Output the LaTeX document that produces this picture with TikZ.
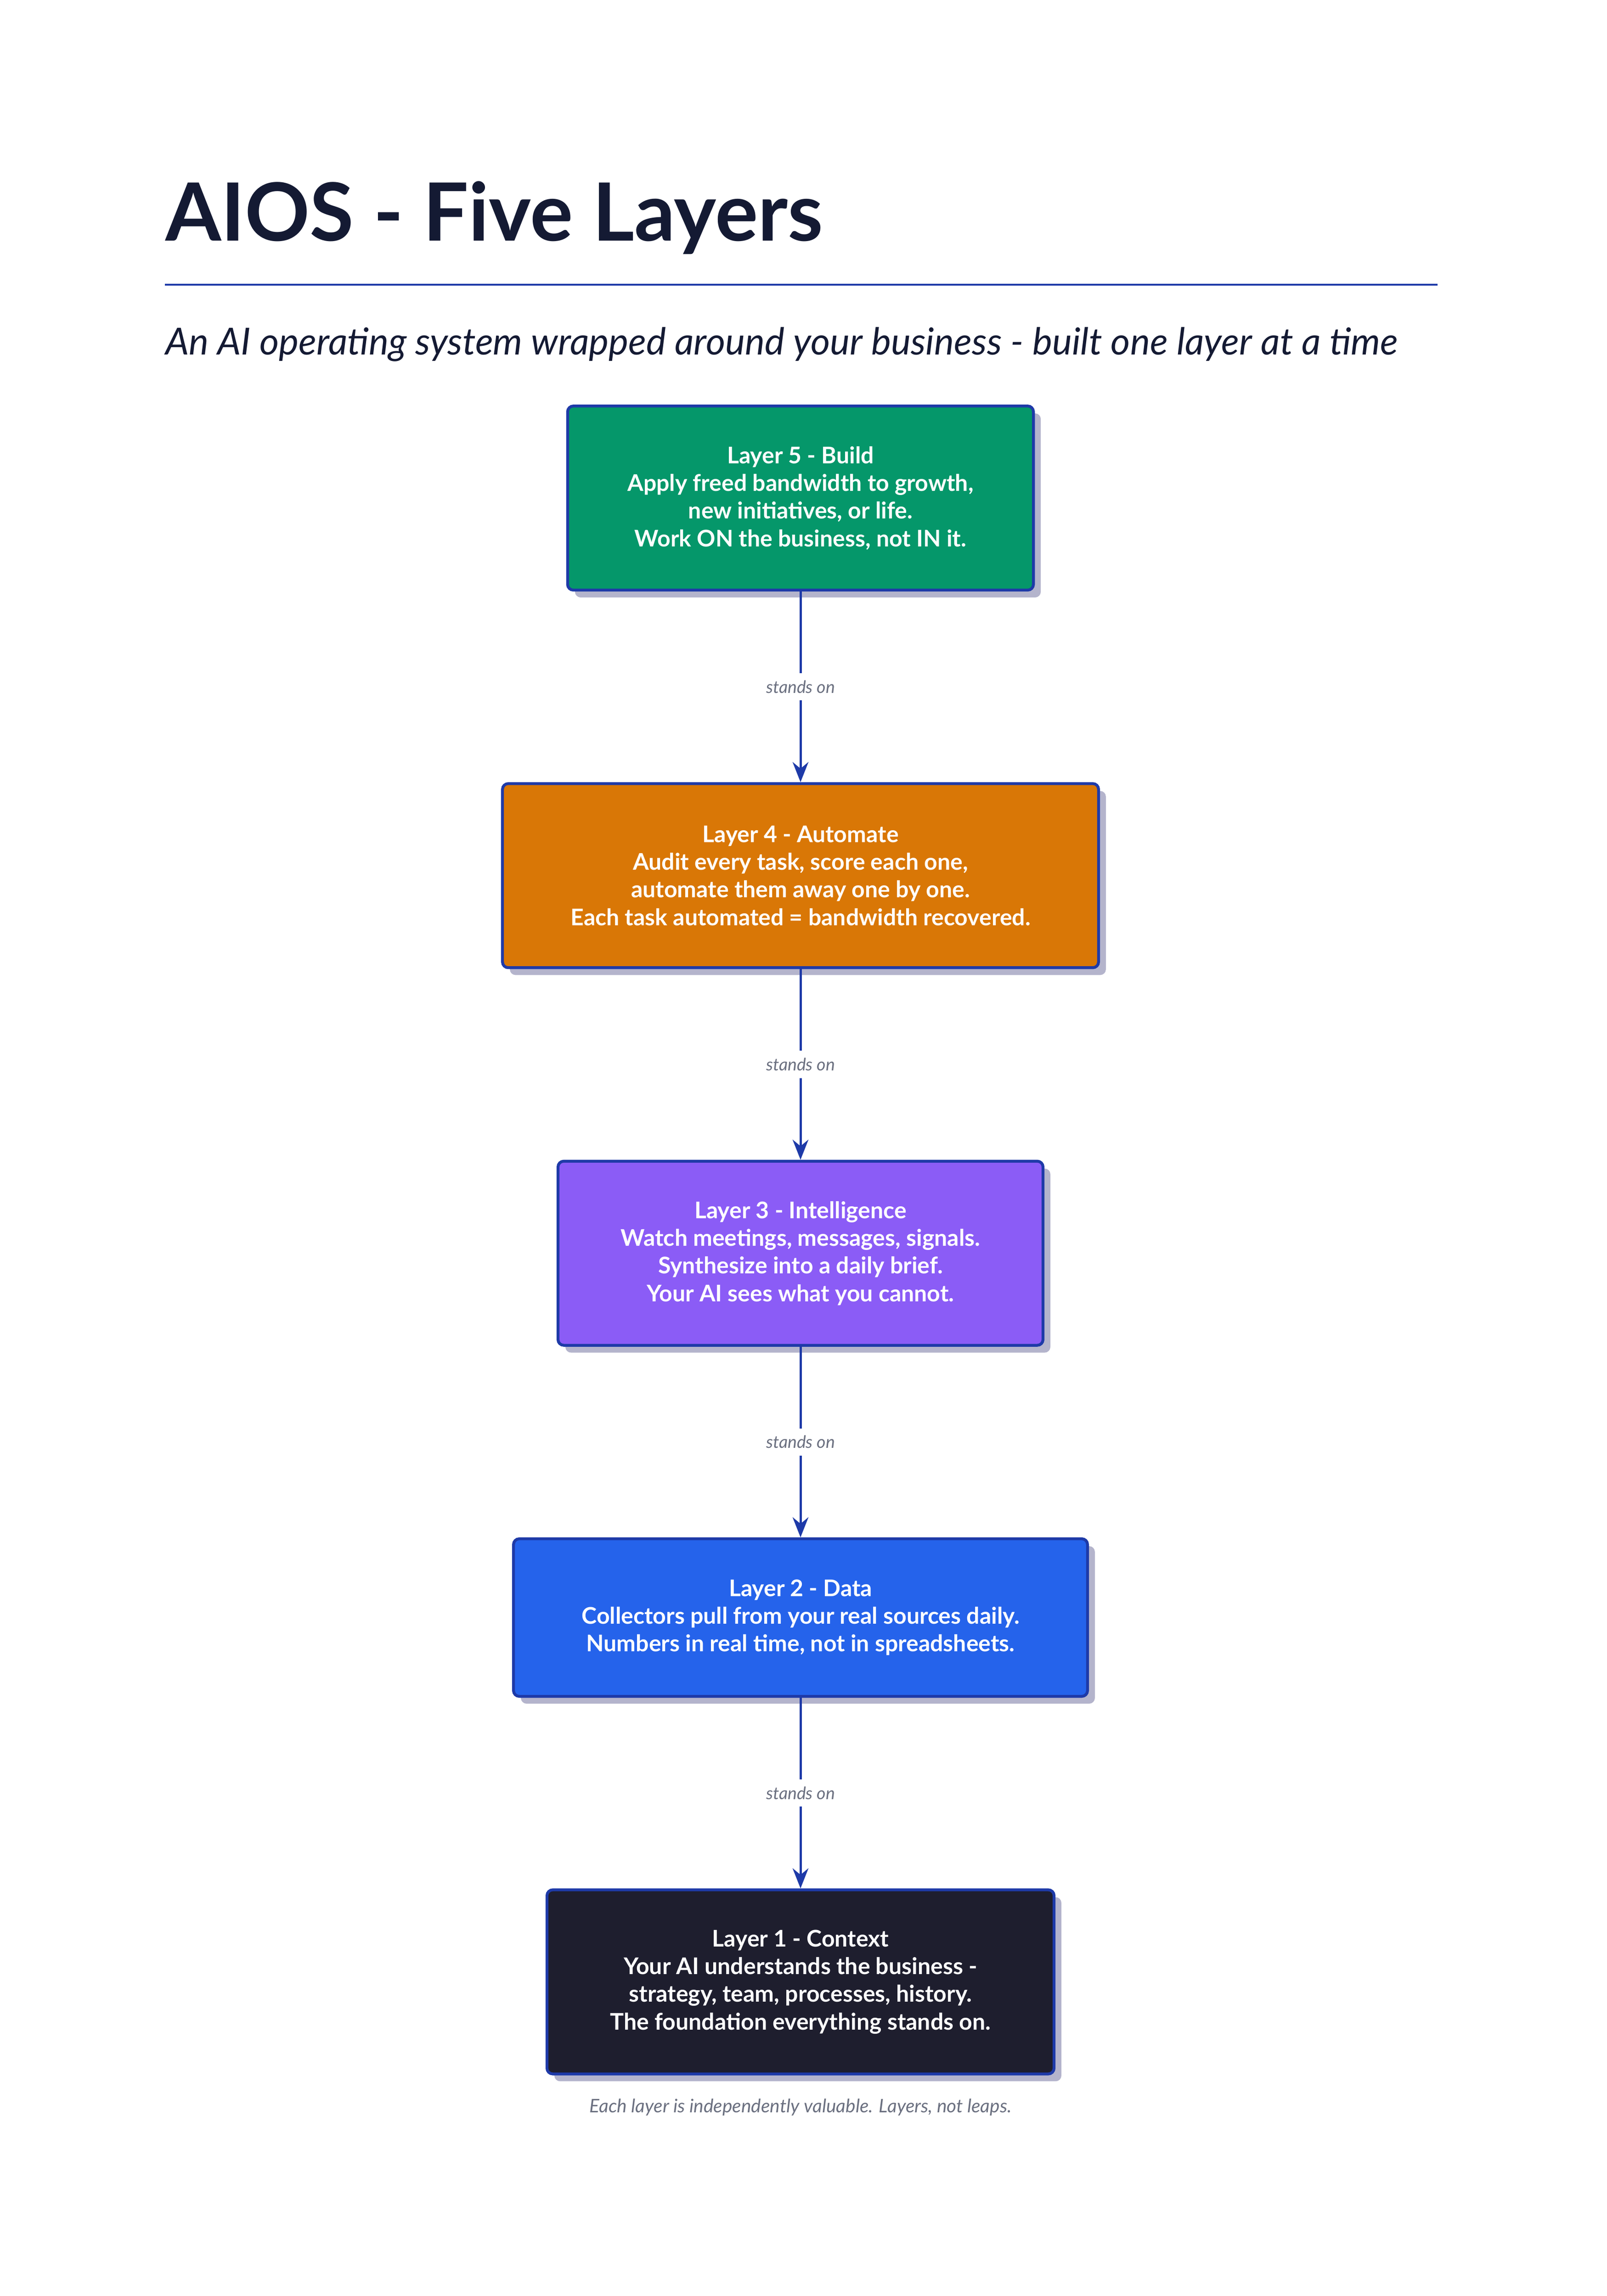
\documentclass[tikz,border=0pt]{standalone}
\usepackage{fontspec}
\setmainfont{Lato}
\usetikzlibrary{arrows.meta, positioning, shadows}
\definecolor{ink}{HTML}{141A33}
\definecolor{edge}{HTML}{1E3AA8}
\definecolor{shade}{HTML}{B4B4CC}
\definecolor{muted}{HTML}{6B7080}
\definecolor{buildc}{HTML}{05976A}
\definecolor{autoc}{HTML}{D97706}
\definecolor{intelc}{HTML}{8B5CF6}
\definecolor{datac}{HTML}{2563EB}
\definecolor{ctxc}{HTML}{1E1E2E}
\tikzset{
  layer/.style={draw=edge, line width=2pt, rounded corners=4pt, text=white,
    align=center, minimum height=4.51cm, inner sep=0pt,
    font=\fontsize{16}{19.3}\selectfont\bfseries,
    drop shadow={shadow xshift=0.18cm, shadow yshift=-0.18cm, fill=shade, opacity=1}},
  link/.style={draw=edge, line width=1.6pt, -{Stealth[length=14pt,width=11pt]}},
  tag/.style={fill=white, text=muted, font=\fontsize{12}{14}\selectfont\itshape, inner sep=5pt}
}
\begin{document}
\begin{tikzpicture}[x=0.03578cm, y=-0.03578cm, node distance=4.67cm]
    \useasboundingbox (0,0) rectangle (1100,1572);
    % heading
    \node[anchor=base west, inner sep=0pt, text=ink, font=\fontsize{56}{60}\selectfont\bfseries] (title) at (113,165) {AIOS - Five Layers};
    \draw[edge, line width=1.2pt] (113,195) -- (984,195);
    \node[anchor=base west, inner sep=0pt, text=ink, font=\fontsize{26}{30}\selectfont\itshape] (sub) at (113,243) {An AI operating system wrapped around your business - built one layer at a time};
    % layers
    \node[layer, fill=buildc, minimum width=11.41cm] (l5) at (548,341) {Layer 5 - Build\\Apply freed bandwidth to growth,\\new initiatives, or life.\\Work ON the business, not IN it.};
    \node[layer, fill=autoc, minimum width=14.6cm, below=of l5] (l4) {Layer 4 - Automate\\Audit every task, score each one,\\automate them away one by one.\\Each task automated = bandwidth recovered.};
    \node[layer, fill=intelc, minimum width=11.88cm, below=of l4] (l3) {Layer 3 - Intelligence\\Watch meetings, messages, signals.\\Synthesize into a daily brief.\\Your AI sees what you cannot.};
    \node[layer, fill=datac, minimum width=14.06cm, minimum height=3.86cm, below=of l3] (l2) {Layer 2 - Data\\Collectors pull from your real sources daily.\\Numbers in real time, not in spreadsheets.};
    \node[layer, fill=ctxc, minimum width=12.42cm, below=of l2] (l1) {Layer 1 - Context\\Your AI understands the business -\\strategy, team, processes, history.\\The foundation everything stands on.};
    % links
    \foreach \a/\b in {l5/l4, l4/l3, l3/l2, l2/l1}
        \draw[link] (\a) -- node[tag] {stands on} (\b);
    \node[below=0.45cm of l1, text=muted, font=\fontsize{13}{16}\selectfont\itshape] (foot) {Each layer is independently valuable. Layers, not leaps.};
\end{tikzpicture}
\end{document}
